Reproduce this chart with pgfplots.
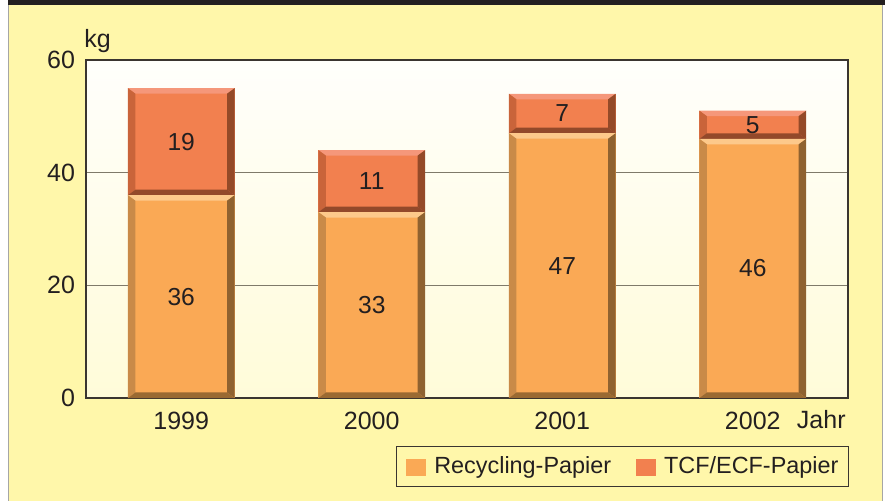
\documentclass[border=0pt]{standalone}
\usepackage{pgfplots}
\pgfplotsset{compat=1.18}
\usepackage{fontspec}
\setmainfont{Liberation Sans}
\definecolor{bgY}{HTML}{FFF7AA}
\definecolor{txt}{HTML}{231F20}
\definecolor{gridC}{HTML}{7F7A6A}
\definecolor{frameC}{HTML}{3A3530}
\definecolor{recMain}{HTML}{FAA955}
\definecolor{recTop}{HTML}{FDC98B}
\definecolor{recLeft}{HTML}{C98A48}
\definecolor{recRight}{HTML}{8F6230}
\definecolor{recBot}{HTML}{9A6A32}
\definecolor{tcfMain}{HTML}{F2804F}
\definecolor{tcfTop}{HTML}{F5977A}
\definecolor{tcfLeft}{HTML}{C9643A}
\definecolor{tcfRight}{HTML}{944A28}
\definecolor{tcfBot}{HTML}{93492A}
\newcommand\bevquad[5]{% color, four points
  \pgfsetfillcolor{#1}%
  \pgfpathmoveto{#2}\pgfpathlineto{#3}\pgfpathlineto{#4}\pgfpathlineto{#5}\pgfpathclose
  \pgfusepath{fill}}
\newcommand\legpatch[1]{%
  \pgfsetfillcolor{#1}\pgfpathrectangle{\pgfpoint{0bp}{-1bp}}{\pgfpoint{10bp}{8.5bp}}\pgfusepath{fill}}
\tikzset{
 bevel/.style n args={4}{path picture={%
  \pgfpointanchor{path picture bounding box}{south west}\pgfgetlastxy{\bxa}{\bya}%
  \pgfpointanchor{path picture bounding box}{north east}\pgfgetlastxy{\bxb}{\byb}%
  \bevquad{#1}{\pgfpoint{\bxa}{\byb}}{\pgfpoint{\bxb}{\byb}}{\pgfpoint{\bxb-3.75bp}{\byb-2.75bp}}{\pgfpoint{\bxa+3.75bp}{\byb-2.75bp}}%
  \bevquad{#2}{\pgfpoint{\bxa}{\byb}}{\pgfpoint{\bxa+3.75bp}{\byb-2.75bp}}{\pgfpoint{\bxa+3.75bp}{\bya+2.75bp}}{\pgfpoint{\bxa}{\bya}}%
  \bevquad{#3}{\pgfpoint{\bxb}{\byb}}{\pgfpoint{\bxb-3.75bp}{\byb-2.75bp}}{\pgfpoint{\bxb-3.75bp}{\bya+2.75bp}}{\pgfpoint{\bxb}{\bya}}%
  \bevquad{#4}{\pgfpoint{\bxa}{\bya}}{\pgfpoint{\bxb}{\bya}}{\pgfpoint{\bxb-3.75bp}{\bya+2.75bp}}{\pgfpoint{\bxa+3.75bp}{\bya+2.75bp}}%
 }}
}
\pgfplotsset{
 common/.style={
  at={(43bp,51.5bp)}, anchor=south west,
  scale only axis, width=381bp, height=169bp,
  xmin=-0.5, xmax=3.5, ymin=0, ymax=60,
 },
 yearaxis/.style={common, hide axis, ybar stacked, bar width=0.56},
 recbar/.style={fill=recMain, draw=none, bevel={recTop}{recLeft}{recRight}{recBot},
   legend image code/.code={\legpatch{recMain}}},
 tcfbar/.style={fill=tcfMain, draw=none, bevel={tcfTop}{tcfLeft}{tcfRight}{tcfBot},
   legend image code/.code={\legpatch{tcfMain}}},
}
\begin{document}
\begin{tikzpicture}
\useasboundingbox (0,0) rectangle (442.5bp,250.5bp);
\fill[white] (0,0) rectangle (442.5bp,250.5bp);
\fill[bgY] (4.25bp,0) rectangle (441.25bp,248.5bp);
\draw[gray!70, line width=0.6bp] (4.25bp,0) -- (4.25bp,248.5bp);
\draw[gray!70, line width=0.6bp] (441.25bp,0) -- (441.25bp,248.5bp);
\fill[txt] (4bp,248.2bp) rectangle (442.5bp,250.5bp);
% main axis with frame, grid, ticks, legend and the 1999 bar
\begin{axis}[common,
  ybar stacked, bar width=0.56,
  axis background/.style={top color=white!60!bgY!10!white, bottom color=bgY!45!white},
  axis line style={draw=frameC, line width=0.6bp},
  xtick={0,1,2,3}, xticklabels={1999,2000,2001,2002},
  ytick={0,20,40,60},
  major tick length=0pt,
  ymajorgrids, grid style={draw=gridC, line width=0.6bp},
  /pgf/number format/assume math mode=true,
  tick label style={font=\fontsize{12.5bp}{15bp}\selectfont, text=txt},
  xticklabel style={yshift=-3.5bp},
  yticklabel style={xshift=-2bp},
  xlabel={Jahr},
  xlabel style={at={(rel axis cs:1,0)}, anchor=base east, inner sep=0pt, yshift=-15bp, xshift=-1bp, font=\fontsize{12.5bp}{15bp}\selectfont, text=txt},
  ylabel={kg},
  ylabel style={rotate=-90, at={(rel axis cs:0,1)}, anchor=base west, inner sep=0pt, yshift=6.5bp, xshift=-1bp, font=\fontsize{12.5bp}{15bp}\selectfont, text=txt},
  legend columns=2,
  legend style={at={(rel axis cs:1,0)}, anchor=north east, yshift=-24bp, xshift=0.5bp,
    draw=frameC, line width=0.6bp, fill=bgY, inner xsep=5bp, inner ysep=5bp,
    font=\fontsize{11.7bp}{14bp}\selectfont, text=txt,
    nodes={inner sep=0pt, anchor=base west},
    column sep=4bp, /tikz/column 2/.style={column sep=12.5bp}},
  legend cell align=left,
]
\addplot[recbar] coordinates {(0,36)};
\addlegendentry{Recycling-Papier}
\addplot[tcfbar] coordinates {(0,19)};
\addlegendentry{TCF/ECF-Papier}
\end{axis}
\begin{axis}[yearaxis]
\addplot[recbar] coordinates {(1,33)};
\addplot[tcfbar] coordinates {(1,11)};
\end{axis}
\begin{axis}[yearaxis]
\addplot[recbar] coordinates {(2,47)};
\addplot[tcfbar] coordinates {(2,7)};
\end{axis}
\begin{axis}[yearaxis]
\addplot[recbar] coordinates {(3,46)};
\addplot[tcfbar] coordinates {(3,5)};
\end{axis}
% value labels
\begin{axis}[common, hide axis]
\addplot[only marks, mark=*, mark size=0pt, mark options={draw=none, fill=none},
  nodes near coords, point meta=explicit symbolic,
  nodes near coords style={anchor=center, font=\fontsize{12.3bp}{15bp}\selectfont, text=txt}]
  coordinates {(0,18)[36] (0,45.5)[19] (1,16.5)[33] (1,38.5)[11]
               (2,23.5)[47] (2,50.5)[7] (3,23)[46] (3,48.5)[5]};
\end{axis}
\end{tikzpicture}
\end{document}
